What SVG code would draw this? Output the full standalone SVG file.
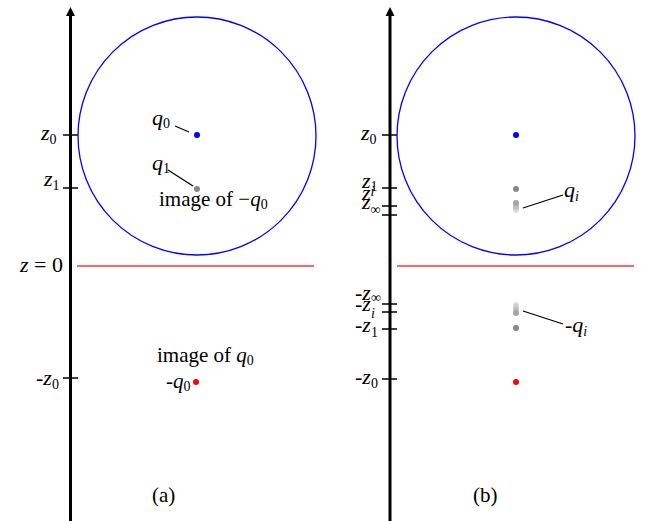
<svg xmlns="http://www.w3.org/2000/svg" width="655" height="521" viewBox="0 0 655 521">
<style>
text{font-family:"Liberation Serif","Times New Roman",serif;font-size:21px;fill:#000}
.v{font-style:italic}
.z{font-size:22px}
.s{font-size:14px;font-style:normal}
.si{font-size:14px;font-style:italic}
.axis{stroke:#000;stroke-width:3;fill:none}
.tick{stroke:#000;stroke-width:1.5}
.circ{fill:none;stroke:#0000ff;stroke-width:1.3}
.zero{stroke:#ff3333;stroke-width:1.5}
.lead{stroke:#000;stroke-width:1.2}
</style>
<g id="panel-a">
<g id="axis-a">
<line class="axis" x1="70.5" y1="521" x2="70.5" y2="15"/>
<path d="M66,16 L70.5,7 L75,16 Z" fill="#000"/>
<line class="tick" x1="63" y1="135" x2="78" y2="135"/>
<line class="tick" x1="63" y1="188" x2="78" y2="188"/>
<line class="tick" x1="63" y1="378" x2="78" y2="378"/>
<text x="41" y="140" class="v z">z<tspan class="s" dy="4">0</tspan></text>
<text x="44" y="186" class="v z">z<tspan class="s" dy="4">1</tspan></text>
<text x="20" y="272" class="z"><tspan class="v">z</tspan> = 0</text>
<text x="36" y="385" class="z">-<tspan class="v">z</tspan><tspan class="s" dy="4">0</tspan></text>
</g>
<g id="sphere-a"><circle class="circ" cx="197" cy="136" r="119"/></g>
<g id="plane-a"><line class="zero" x1="77" y1="266" x2="314" y2="266"/></g>
<g id="q0-a"><circle cx="197" cy="135" r="3" fill="#0000ff"/>
<text x="152" y="125" class="v z">q<tspan class="s" dy="3">0</tspan></text></g>
<g id="q1-a"><circle cx="197" cy="189" r="3" fill="#888"/>
<text x="152" y="170" class="v z">q<tspan class="s" dy="3">1</tspan></text>
<text x="159" y="206">image of −<tspan class="v">q</tspan><tspan class="s" dy="3">0</tspan></text></g>
<g id="mq0-a"><circle cx="196" cy="382" r="3" fill="#ff0000"/>
<text x="157" y="362">image of <tspan class="v">q</tspan><tspan class="s" dy="3">0</tspan></text>
<text x="166" y="388">-<tspan class="v">q</tspan><tspan class="s" dy="3">0</tspan></text></g>
<text x="152" y="502">(a)</text>
</g>
<g id="panel-b">
<g id="axis-b">
<line class="axis" x1="390" y1="521" x2="390" y2="15"/>
<path d="M385.5,16 L390,7 L394.5,16 Z" fill="#000"/>
<line class="tick" x1="382" y1="135" x2="397" y2="135"/>
<line class="tick" x1="382" y1="188" x2="397" y2="188"/>
<line class="tick" x1="382" y1="206" x2="397" y2="206"/>
<line class="tick" x1="382" y1="215" x2="397" y2="215"/>
<line class="tick" x1="382" y1="304" x2="397" y2="304"/>
<line class="tick" x1="382" y1="312" x2="397" y2="312"/>
<line class="tick" x1="382" y1="329" x2="397" y2="329"/>
<line class="tick" x1="382" y1="379" x2="397" y2="379"/>
<text x="361" y="140" class="v z">z<tspan class="s" dy="4">0</tspan></text>
<text x="362" y="188" class="v z">z<tspan class="s" dy="3">1</tspan></text>
<text x="362" y="200" class="v z">z<tspan class="si" dy="-4">i</tspan></text>
<text x="362" y="209" class="v z">z<tspan class="s" dy="5">∞</tspan></text>
<text x="355" y="300" class="z">-<tspan class="v">z</tspan><tspan class="s" dy="2">∞</tspan></text>
<text x="355" y="311" class="z">-<tspan class="v">z</tspan><tspan class="si" dy="7">i</tspan></text>
<text x="355" y="332" class="z">-<tspan class="v">z</tspan><tspan class="s" dy="5">1</tspan></text>
<text x="355" y="384" class="z">-<tspan class="v">z</tspan><tspan class="s" dy="4">0</tspan></text>
</g>
<g id="sphere-b"><circle class="circ" cx="516" cy="136" r="119"/></g>
<g id="plane-b"><line class="zero" x1="397" y1="266" x2="634" y2="266"/></g>
<g id="q0-b"><circle cx="516" cy="135" r="3" fill="#0000ff"/></g>
<g id="qi-b">
<circle cx="516" cy="189" r="3" fill="#888"/>
<circle cx="516" cy="210" r="3" fill="#e0e0e0"/>
<circle cx="516" cy="208" r="3" fill="#cfcfcf"/>
<circle cx="516" cy="206" r="3" fill="#bdbdbd"/>
<circle cx="516" cy="203" r="3" fill="#a5a5a5"/>
<text x="564" y="197" class="v z">q<tspan class="si" dy="4">i</tspan></text>
</g>
<g id="mqi-b">
<circle cx="516" cy="328" r="3" fill="#888"/>
<circle cx="516" cy="305" r="3" fill="#e0e0e0"/>
<circle cx="516" cy="307" r="3" fill="#cfcfcf"/>
<circle cx="516" cy="310" r="3" fill="#bdbdbd"/>
<circle cx="516" cy="313" r="3" fill="#a5a5a5"/>
<text x="565" y="332" class="z">-<tspan class="v">q</tspan><tspan class="si" dy="4">i</tspan></text>
</g>
<g id="mq0-b"><circle cx="516" cy="382" r="3" fill="#ff0000"/></g>
<text x="473" y="502">(b)</text>
</g>
<g id="connectors">
<line class="lead" x1="175" y1="126" x2="189" y2="132"/>
<line class="lead" x1="168" y1="170" x2="193" y2="186"/>
<line class="lead" x1="523" y1="208" x2="563" y2="195"/>
<line class="lead" x1="523" y1="311" x2="563" y2="324"/>
</g>
</svg>
